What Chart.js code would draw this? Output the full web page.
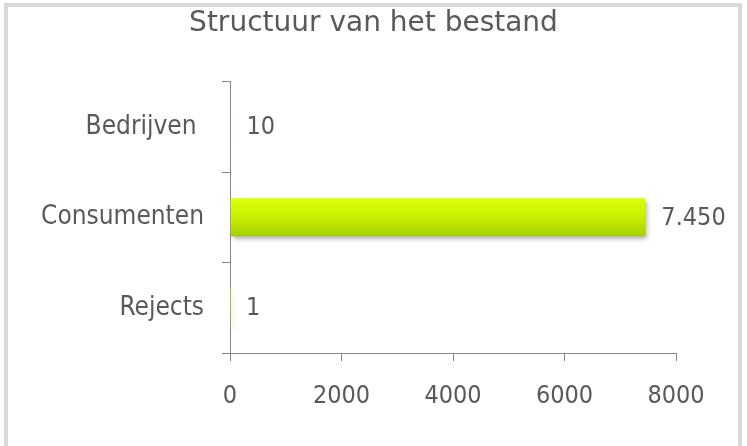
<!DOCTYPE html>
<html>
<head>
<meta charset="utf-8">
<script src="https://cdn.jsdelivr.net/npm/chart.js@4"></script>
<style>
  html, body { margin: 0; padding: 0; background: #fff; }
  #wrap { width: 747px; height: 446px; position: relative; }
</style>
</head>
<body>
<div id="wrap"><canvas id="chart"></canvas></div>
<script>
const categories = ['Bedrijven ', 'Consumenten', 'Rejects'];
const values = [10, 7450, 1];
const axisMin = 0;
const axisMax = 8000;
const axisStep = 2000;

const FONT = "'DejaVu Sans Condensed', 'DejaVu Sans', sans-serif";
const TITLE_FONT = "'DejaVu Sans', sans-serif";
const TEXT = '#595959';
const AXIS = '#868686';

// 7450 -> "7.450"
function fmt(v) {
  return String(v).replace(/\B(?=(\d{3})+(?!\d))/g, '.');
}

function barFill(ctx) {
  const chart = ctx.chart;
  const y = chart.scales && chart.scales.y;
  if (!y || !chart.chartArea) return '#c4ea00';
  const cy = y.getPixelForValue(ctx.dataIndex);
  const g = chart.ctx.createLinearGradient(0, cy - 19, 0, cy + 19);
  g.addColorStop(0, '#dcff0a');
  g.addColorStop(0.5, '#c8ef00');
  g.addColorStop(1, '#a4cf00');
  return g;
}

// grey frame, open at the bottom like the original crop
const frame = {
  id: 'frame',
  beforeDraw(chart) {
    const c = chart.ctx;
    c.save();
    c.fillStyle = '#fff';
    c.fillRect(0, 0, chart.width, chart.height);
    c.strokeStyle = '#d9d9d9';
    c.lineWidth = 4;
    c.strokeRect(6, 5, 734, 470);
    c.restore();
  }
};

const barShadow = {
  id: 'barShadow',
  beforeDatasetDraw(chart) {
    const c = chart.ctx;
    c.save();
    c.shadowColor = 'rgba(0,0,0,0.35)';
    c.shadowBlur = 5;
    c.shadowOffsetX = 2;
    c.shadowOffsetY = 3;
  },
  afterDatasetDraw(chart) {
    chart.ctx.restore();
  }
};

const valueLabels = {
  id: 'valueLabels',
  afterDatasetsDraw(chart) {
    const c = chart.ctx;
    const meta = chart.getDatasetMeta(0);
    c.save();
    c.font = '25px ' + FONT;
    c.fillStyle = TEXT;
    c.textAlign = 'left';
    c.textBaseline = 'middle';
    meta.data.forEach((bar, i) => {
      c.fillText(fmt(values[i]), bar.x + 16, bar.y + 1);
    });
    c.restore();
  }
};

new Chart(document.getElementById('chart'), {
  type: 'bar',
  data: {
    labels: categories,
    datasets: [{
      data: values,
      backgroundColor: barFill,
      borderWidth: 0,
      barPercentage: 0.42,
      categoryPercentage: 1
    }]
  },
  plugins: [frame, barShadow, valueLabels],
  options: {
    indexAxis: 'y',
    responsive: true,
    maintainAspectRatio: false,
    animation: false,
    layout: { padding: 0 },
    plugins: {
      legend: { display: false },
      tooltip: { enabled: false },
      title: {
        display: true,
        text: 'Structuur van het bestand',
        color: TEXT,
        font: { family: TITLE_FONT, size: 28, weight: 'normal' },
        padding: { top: 7, bottom: 41 }
      }
    },
    scales: {
      y: {
        afterFit(scale) { scale.width = 230; },
        grid: {
          drawOnChartArea: false,
          drawTicks: true,
          tickLength: 8,
          color: AXIS,
          offset: true
        },
        border: { color: AXIS, width: 1 },
        ticks: {
          color: TEXT,
          padding: 18,
          font: { family: FONT, size: 26 }
        }
      },
      // empty right-hand gutter so the plot ends at 8000 while the title stays centred
      gutter: {
        type: 'category',
        axis: 'y',
        position: 'right',
        afterFit(scale) { scale.width = 71; },
        grid: { display: false },
        border: { display: false },
        ticks: { display: false }
      },
      x: {
        min: axisMin,
        max: axisMax,
        afterFit(scale) { scale.height = 93; },
        grid: {
          drawOnChartArea: false,
          drawTicks: true,
          tickLength: 8,
          color: AXIS
        },
        border: { color: AXIS, width: 1 },
        ticks: {
          stepSize: axisStep,
          color: TEXT,
          padding: 20,
          maxRotation: 0,
          callback: v => String(v),
          font: { family: FONT, size: 25 }
        }
      }
    }
  }
});
</script>
</body>
</html>
